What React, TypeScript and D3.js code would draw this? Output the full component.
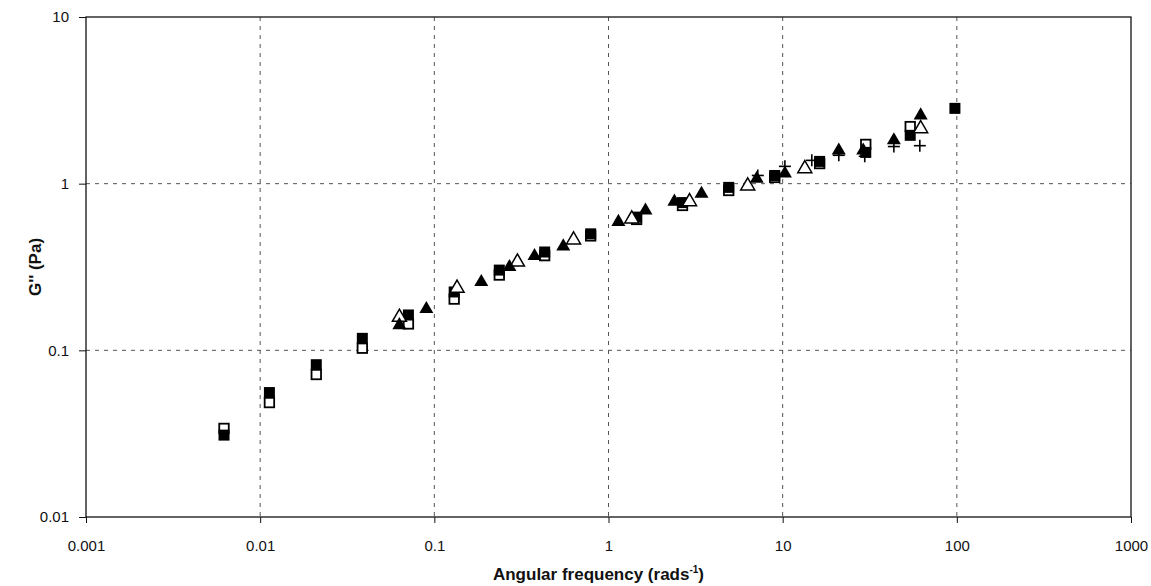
import React, { useRef, useEffect } from "react";
import * as d3 from "d3";

// G'' (Pa) vs angular frequency (rad/s)
const filledSqX = [0.0062, 0.0113, 0.021, 0.0386, 0.071, 0.13, 0.236, 0.43, 0.79, 1.45, 2.66, 4.9, 9.0, 16.3, 30, 54, 97.5];
const filledSqY = [0.031, 0.0558, 0.082, 0.118, 0.163, 0.224, 0.303, 0.389, 0.5, 0.63, 0.77, 0.95, 1.12, 1.36, 1.54, 1.95, 2.83];

const openSqX = [0.0062, 0.0113, 0.021, 0.0386, 0.071, 0.13, 0.236, 0.43, 0.79, 1.45, 2.66, 4.9, 9.0, 16.3, 30, 54];
const openSqY = [0.034, 0.0486, 0.0716, 0.103, 0.144, 0.203, 0.283, 0.37, 0.486, 0.61, 0.74, 0.91, 1.09, 1.32, 1.72, 2.2];

const filledTriX = [0.063, 0.09, 0.186, 0.27, 0.376, 0.55, 1.14, 1.63, 2.39, 3.42, 7.1, 10.3, 21, 29, 43.5, 62];
const filledTriY = [0.1415, 0.177, 0.257, 0.316, 0.368, 0.42, 0.59, 0.69, 0.78, 0.87, 1.07, 1.15, 1.58, 1.58, 1.82, 2.57];

const openTriX = [0.063, 0.135, 0.3, 0.63, 1.36, 2.92, 6.3, 13.4, 62];
const openTriY = [0.158, 0.236, 0.339, 0.46, 0.615, 0.78, 0.97, 1.23, 2.14];

const plusX = [7.2, 10.3, 14.7, 21, 29.6, 43.5, 61.3];
const plusY = [1.12, 1.27, 1.38, 1.48, 1.46, 1.67, 1.69];

const xTicks = [0.001, 0.01, 0.1, 1, 10, 100, 1000];
const yTicks = [0.01, 0.1, 1, 10];

function App() {
    const svgRef = useRef();

    useEffect(() => {
        const width = 1151;
        const height = 586;
        const m = { left: 86, right: 1131, top: 17, bottom: 517 };
        const font = "Liberation Sans, Arial, sans-serif";

        // pin the svg to the page corner (body has an 8px margin)
        const svg = d3.select(svgRef.current)
            .attr("width", width)
            .attr("height", height)
            .style("position", "absolute")
            .style("left", "0px")
            .style("top", "0px")
            .style("background", "#fff");
        svg.selectAll("*").remove();

        const x = d3.scaleLog().domain([0.001, 1000]).range([m.left, m.right]);
        const y = d3.scaleLog().domain([0.01, 10]).range([m.bottom, m.top]);

        // grid lines
        const grid = svg.append("g")
            .attr("stroke", "#555")
            .attr("stroke-width", 1)
            .attr("stroke-dasharray", "4,5");
        grid.selectAll("line.gx")
            .data(xTicks.slice(1, -1))
            .join("line")
            .attr("class", "gx")
            .attr("x1", d => x(d)).attr("x2", d => x(d))
            .attr("y1", m.top).attr("y2", m.bottom);
        grid.selectAll("line.gy")
            .data(yTicks.slice(1, -1))
            .join("line")
            .attr("class", "gy")
            .attr("x1", m.left).attr("x2", m.right)
            .attr("y1", d => y(d)).attr("y2", d => y(d));

        // frame
        svg.append("rect")
            .attr("x", m.left).attr("y", m.top)
            .attr("width", m.right - m.left).attr("height", m.bottom - m.top)
            .attr("fill", "none").attr("stroke", "#111").attr("stroke-width", 1.3);

        // axes
        const xAxis = d3.axisBottom(x).tickValues(xTicks).tickFormat(d => String(d)).tickSize(6).tickPadding(17);
        const gx = svg.append("g").attr("transform", `translate(0,${m.bottom})`).call(xAxis);
        gx.select(".domain").remove();
        gx.selectAll("text").style("font-family", font).style("font-size", "15px").attr("fill", "#111");
        gx.selectAll("line").attr("stroke", "#111");

        const yAxis = d3.axisLeft(y).tickValues(yTicks).tickFormat(d => String(d)).tickSize(7).tickPadding(10);
        const gy = svg.append("g").attr("transform", `translate(${m.left},0)`).call(yAxis);
        gy.select(".domain").remove();
        gy.selectAll("text").style("font-family", font).style("font-size", "15px").attr("fill", "#111");
        gy.selectAll("line").attr("stroke", "#111");

        // axis titles
        const xt = svg.append("text")
            .attr("x", (m.left + m.right) / 2 - 10)
            .attr("y", 580)
            .attr("text-anchor", "middle")
            .style("font-family", font).style("font-size", "17px").style("font-weight", "bold")
            .attr("fill", "#111");
        xt.append("tspan").text("Angular frequency (rads");
        xt.append("tspan").attr("dy", -7).style("font-size", "10px").text("-1");
        xt.append("tspan").attr("dy", 7).text(")");

        svg.append("text")
            .attr("transform", `translate(41,${(m.top + m.bottom) / 2}) rotate(-90)`)
            .attr("text-anchor", "middle")
            .style("font-family", font).style("font-size", "17px").style("font-weight", "bold")
            .attr("fill", "#111")
            .text("G'' (Pa)");

        const pts = (xs, ys) => xs.map((v, i) => [v, ys[i]]);
        const s = 11;
        const tri = d3.symbol().type(d3.symbolTriangle).size(85);

        // open squares
        svg.append("g").selectAll("rect")
            .data(pts(openSqX, openSqY))
            .join("rect")
            .attr("x", d => x(d[0]) - s / 2 + 0.75).attr("y", d => y(d[1]) - s / 2 + 0.75)
            .attr("width", s - 1.5).attr("height", s - 1.5)
            .attr("fill", "#fff").attr("stroke", "#000").attr("stroke-width", 1.8);

        // filled squares
        svg.append("g").selectAll("rect")
            .data(pts(filledSqX, filledSqY))
            .join("rect")
            .attr("x", d => x(d[0]) - s / 2).attr("y", d => y(d[1]) - s / 2)
            .attr("width", s).attr("height", s)
            .attr("fill", "#000");

        // open triangles
        svg.append("g").selectAll("path")
            .data(pts(openTriX, openTriY))
            .join("path")
            .attr("transform", d => `translate(${x(d[0])},${y(d[1])})`)
            .attr("d", tri)
            .attr("fill", "#fff").attr("stroke", "#000").attr("stroke-width", 1.5);

        // filled triangles
        svg.append("g").selectAll("path")
            .data(pts(filledTriX, filledTriY))
            .join("path")
            .attr("transform", d => `translate(${x(d[0])},${y(d[1])})`)
            .attr("d", tri)
            .attr("fill", "#000");

        // plus signs
        const plus = svg.append("g").attr("stroke", "#000").attr("stroke-width", 1.6);
        const pd = pts(plusX, plusY);
        plus.selectAll("line.h").data(pd).join("line").attr("class", "h")
            .attr("x1", d => x(d[0]) - 6).attr("x2", d => x(d[0]) + 6)
            .attr("y1", d => y(d[1])).attr("y2", d => y(d[1]));
        plus.selectAll("line.v").data(pd).join("line").attr("class", "v")
            .attr("x1", d => x(d[0])).attr("x2", d => x(d[0]))
            .attr("y1", d => y(d[1]) - 6).attr("y2", d => y(d[1]) + 6);
    }, []);

    return (<svg ref={svgRef}></svg>);
}

export default App;
